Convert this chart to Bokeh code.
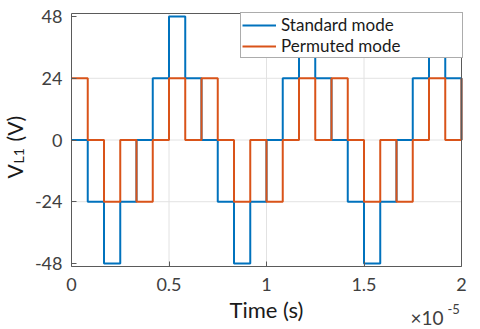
import math
from bokeh.plotting import figure
from bokeh.models import (Range1d, FixedTicker, Legend, LegendItem, Label, LinearAxis)
from bokeh.embed import file_html
from bokeh.resources import INLINE

# ---- data (time in units of 1e-5 s, step edges) ----
time_edges = [0.0, 0.0833, 0.1667, 0.25, 0.3333, 0.4167, 0.5, 0.5833, 0.6667,
              0.75, 0.8333, 0.9167, 1.0, 1.0833, 1.1667, 1.25, 1.3333, 1.4167,
              1.5, 1.5833, 1.6667, 1.75, 1.8333, 1.9167, 2.0]
standard_v = [0, -24, -48, -24, 0, 24, 48, 24,
              0, -24, -48, -24, 0, 24, 48, 24,
              0, -24, -48, -24, 0, 24, 48, 24, 0]
permuted_v = [24, 0, -24, 0, -24, 0, 24, 0,
              24, 0, -24, 0, -24, 0, 24, 0,
              24, 0, -24, 0, -24, 0, 24, 0, 24]
series_names = ["Standard mode", "Permuted mode"]
x_ticks = [0, 0.5, 1, 1.5, 2]
x_tick_labels = ["0", "0.5", "1", "1.5", "2"]
y_ticks = [-48, -24, 0, 24, 48]
y_tick_labels = ["-48", "-24", "0", "24", "48"]
x_lim = (0, 2)
y_lim = (-49.2, 49.2)

FONT = "Lato"
BLUE = "#0072BD"
ORANGE = "#D95319"
AXC = "#5a5a5a"
TXT = "#404040"
GRID = "#e2e2e2"

# ---- layout: the frame fills the canvas, the axes box sits inside it ----
W, H = 480, 329
BOX_L, BOX_R, BOX_T, BOX_B = 71, 461, 13, 266   # axes box in canvas pixels
kx = (BOX_R - BOX_L) / (x_lim[1] - x_lim[0])
ky = (BOX_B - BOX_T) / (y_lim[1] - y_lim[0])
xr = Range1d(x_lim[0] - BOX_L / kx, x_lim[1] + (W - BOX_R) / kx)
yr = Range1d(y_lim[0] - (H - BOX_B) / ky, y_lim[1] + BOX_T / ky)

p = figure(width=W, height=H, output_backend="svg", toolbar_location=None,
           x_range=xr, y_range=yr, min_border=0,
           x_axis_location=None, y_axis_location=None)
p.background_fill_color = "white"
p.border_fill_color = "white"
p.outline_line_color = None
p.grid.visible = False

# grid lines at the tick values, limited to the axes box
p.segment(x0=x_ticks[1:-1], y0=[y_lim[0]] * 3, x1=x_ticks[1:-1], y1=[y_lim[1]] * 3,
          line_color=GRID, line_width=1)
p.segment(x0=[x_lim[0]] * 3, y0=y_ticks[1:-1], x1=[x_lim[1]] * 3, y1=y_ticks[1:-1],
          line_color=GRID, line_width=1)

def style_axis(ax):
    ax.major_tick_in = 5
    ax.major_tick_out = 0
    ax.minor_tick_in = 0
    ax.minor_tick_out = 0
    ax.axis_line_color = AXC
    ax.axis_line_width = 1
    ax.major_tick_line_color = AXC
    ax.major_label_text_font = FONT
    ax.major_label_text_font_size = "18px"
    ax.major_label_text_color = TXT

xaxis = LinearAxis(ticker=FixedTicker(ticks=x_ticks), fixed_location=y_lim[0],
                   bounds=x_lim, major_label_overrides=dict(zip(x_ticks, x_tick_labels)),
                   major_label_standoff=11)
yaxis = LinearAxis(ticker=FixedTicker(ticks=y_ticks), fixed_location=x_lim[0],
                   bounds=y_lim, major_label_overrides=dict(zip(y_ticks, y_tick_labels)),
                   major_label_standoff=9)
style_axis(xaxis)
style_axis(yaxis)
p.add_layout(xaxis, "below")
p.add_layout(yaxis, "left")
# top and right edges of the box
top_ax = LinearAxis(ticker=FixedTicker(ticks=[]), fixed_location=y_lim[1], bounds=x_lim)
right_ax = LinearAxis(ticker=FixedTicker(ticks=[]), fixed_location=x_lim[1], bounds=y_lim)
for ax in (top_ax, right_ax):
    style_axis(ax)
p.add_layout(top_ax, "above")
p.add_layout(right_ax, "right")

r1 = p.step(time_edges, standard_v, mode="after", line_color=BLUE, line_width=2)
r2 = p.step(time_edges, permuted_v, mode="after", line_color=ORANGE, line_width=2)

# screen units: measured from the canvas' bottom-left corner
def sx(xpage):
    return xpage

def sy(ypage):
    return H - ypage

LEG_H = 46
legend = Legend(items=[LegendItem(label=series_names[0], renderers=[r1]),
                       LegendItem(label=series_names[1], renderers=[r2])],
                location=(sx(240), sy(12 + LEG_H)), margin=0, padding=1, spacing=0,
                glyph_width=34, glyph_height=20, label_height=20,
                label_width=180, label_standoff=5,
                label_text_font=FONT, label_text_font_size="17px",
                label_text_color="#1a1a1a",
                border_line_color=AXC, border_line_width=1,
                background_fill_color="white", background_fill_alpha=1)
p.add_layout(legend)

label_kw = dict(text_font=FONT, text_color="#1a1a1a",
                x_units="screen", y_units="screen")
# y-axis label  V_L1 (V)
p.add_layout(Label(x=sx(13.5), y=sy(178), text="V", angle=math.pi / 2,
                   text_align="left", text_baseline="alphabetic",
                   text_font_size="21px", **label_kw))
p.add_layout(Label(x=sx(18), y=sy(163), text="L1", angle=math.pi / 2,
                   text_align="left", text_baseline="alphabetic",
                   text_font_size="14px", **label_kw))
p.add_layout(Label(x=sx(13.5), y=sy(141), text="(V)", angle=math.pi / 2,
                   text_align="left", text_baseline="alphabetic",
                   text_font_size="21px", **label_kw))
# x-axis label
p.add_layout(Label(x=sx(266), y=sy(309), text="Time (s)", text_align="center",
                   text_baseline="alphabetic", text_font_size="22px", **label_kw))
# exponent
p.add_layout(Label(x=sx(410), y=sy(317), text="\u00d710", text_align="left",
                   text_baseline="alphabetic", text_font_size="19px",
                   text_font=FONT, text_color=TXT,
                   x_units="screen", y_units="screen"))
p.add_layout(Label(x=sx(447), y=sy(308), text="-5", text_align="left",
                   text_baseline="alphabetic", text_font_size="13px",
                   text_font=FONT, text_color=TXT,
                   x_units="screen", y_units="screen"))

open("out.html", "w").write(file_html(p, INLINE))
